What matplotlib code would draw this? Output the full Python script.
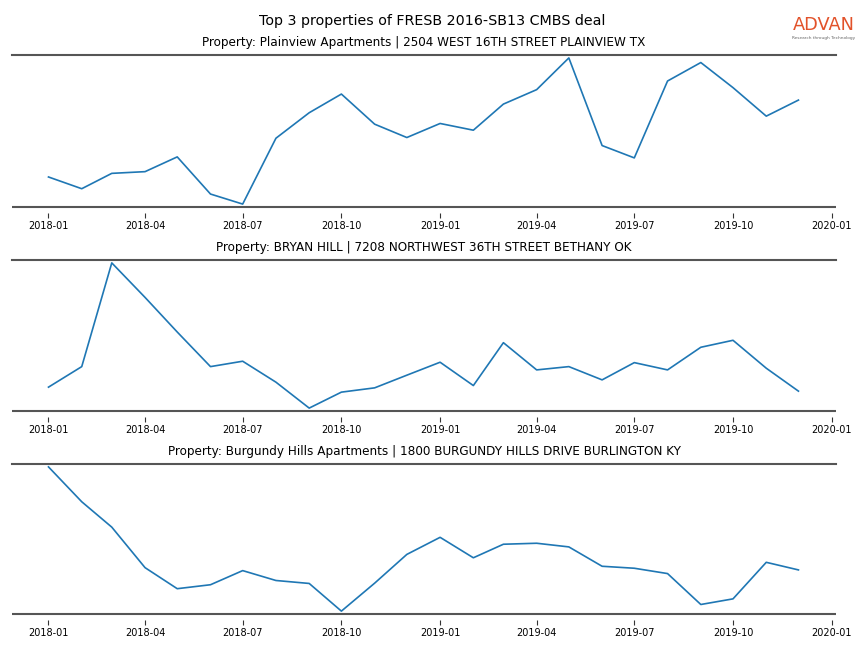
import pandas as pd
import matplotlib.pyplot as plt
import matplotlib.dates as mdates

# ----------------------------
# Data (monthly index values, arbitrary scale)
# ----------------------------
months = pd.date_range('2018-01-01', '2019-12-01', freq='MS')

titles = [
    'Property: Plainview Apartments | 2504 WEST 16TH STREET PLAINVIEW TX',
    'Property: BRYAN HILL | 7208 NORTHWEST 36TH STREET BETHANY OK',
    'Property: Burgundy Hills Apartments | 1800 BURGUNDY HILLS DRIVE BURLINGTON KY',
]

plainview = [29.7, 18.0, 33.3, 35.0, 49.7, 12.7, 2.7, 68.3, 93.7, 112.3, 82.3, 69.0,
             83.0, 76.3, 102.3, 116.7, 148.3, 61.0, 48.7, 125.3, 143.7, 118.7, 90.3, 106.3]
bryan_hill = [23.4, 44.0, 148.0, 113.4, 78.7, 44.0, 49.4, 28.4, 2.4, 18.4, 22.7, 35.4,
              48.4, 25.0, 68.0, 40.7, 44.0, 30.7, 48.0, 40.7, 63.4, 70.4, 42.4, 19.4]
burgundy = [147.0, 111.7, 86.0, 45.0, 23.7, 27.7, 42.0, 32.0, 29.0, 1.0, 29.3, 58.4,
            75.7, 55.0, 68.7, 69.7, 66.0, 46.4, 44.4, 39.0, 7.7, 13.4, 50.4, 42.7]

series = [plainview, bryan_hill, burgundy]

# ----------------------------
# Plot
# ----------------------------
W, H = 864, 648
fig = plt.figure(figsize=(W / 100, H / 100), dpi=100)
fig.suptitle('Top 3 properties of FRESB 2016-SB13 CMBS deal', fontsize=10.3, y=1 - 20.5 / H,
             va='center')

# logo
fig.text(824 / W, 1 - 25.5 / H, 'ADVAN', color='#e2522a', fontsize=12.8,
         ha='center', va='center')
fig.text(824 / W, 1 - 37.5 / H, 'Research through Technology', color='#666666',
         fontsize=3.1, ha='center', va='center')

# panel extents in pixels (top, bottom)
panels = [(55, 207), (260, 411), (464, 614)]
left, right = 12, 836
for (top, bottom), title, values in zip(panels, titles, series):
    ax = fig.add_axes([left / W, 1 - bottom / H, (right - left) / W, (bottom - top) / H])
    ax.plot(months, values, color='#1f77b4', linewidth=1.2)
    ax.set_title(title, fontsize=8.65, pad=6.2)
    ax.set_xlim(pd.Timestamp('2017-11-28'), pd.Timestamp('2020-01-05'))
    ax.set_ymargin(0.02)
    ax.autoscale_view()
    ax.xaxis.set_major_locator(mdates.MonthLocator(bymonth=[1, 4, 7, 10]))
    ax.xaxis.set_major_formatter(mdates.DateFormatter('%Y-%m'))
    ax.tick_params(axis='x', labelsize=7, length=3.5, width=0.8, pad=1.8, color='#333333')
    ax.set_yticks([])
    for side in ['left', 'right', 'bottom']:
        ax.spines[side].set_visible(False)
    # ticks sit a little below the bottom rule
    ax.spines['bottom'].set_position(('outward', 4.5))
    ax.spines['top'].set_color('#555555')
    ax.spines['top'].set_linewidth(1.5)
    ax.plot([0, 1], [0, 0], transform=ax.transAxes, color='#555555', linewidth=1.5,
            clip_on=False, solid_capstyle='butt')

fig.savefig('out.png', dpi=100)
